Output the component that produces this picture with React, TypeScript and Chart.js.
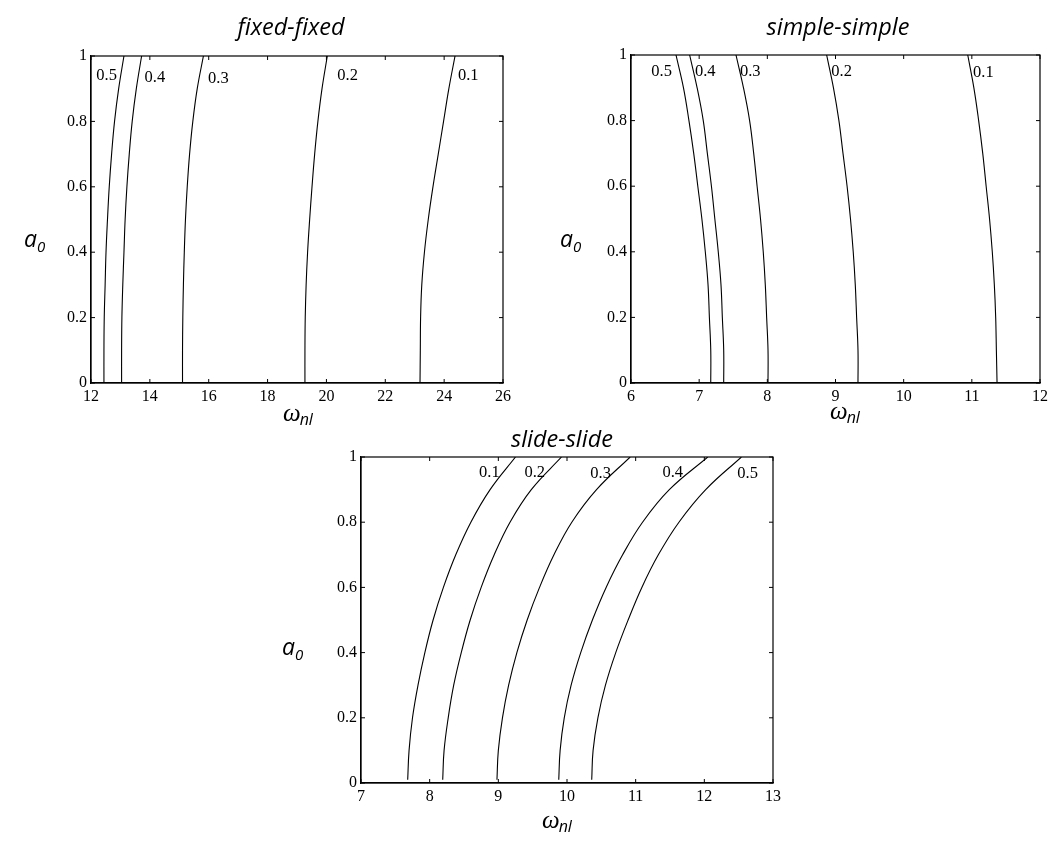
import React, { useEffect, useRef } from "react";
import { Chart, registerables } from "chart.js";
Chart.register(...registerables);

// ---------- data ----------
const levelNames = ["0.1", "0.2", "0.3", "0.4", "0.5"];

// fixed-fixed (a0 values, then omega_nl per damping level)
const fixedA = [0, 0.1, 0.2, 0.3, 0.4, 0.5, 0.6, 0.7, 0.8, 0.9, 1];
const fixed01 = [23.18, 23.19, 23.2, 23.24, 23.33, 23.46, 23.62, 23.8, 23.98, 24.16, 24.37];
const fixed02 = [19.27, 19.27, 19.28, 19.31, 19.36, 19.43, 19.51, 19.6, 19.71, 19.85, 20.03];
const fixed03 = [15.11, 15.11, 15.12, 15.14, 15.17, 15.21, 15.27, 15.35, 15.46, 15.61, 15.82];
const fixed04 = [13.04, 13.04, 13.05, 13.08, 13.12, 13.16, 13.22, 13.3, 13.4, 13.54, 13.72];
const fixed05 = [12.44, 12.44, 12.45, 12.48, 12.51, 12.56, 12.62, 12.7, 12.8, 12.94, 13.12];
const fixedLabelX = [24.82, 20.72, 16.33, 14.17, 12.53];
const fixedLabelY = [0.94, 0.94, 0.93, 0.935, 0.94];

// simple-simple
const simpleA = [0, 0.1, 0.2, 0.3, 0.4, 0.5, 0.6, 0.7, 0.8, 0.9, 1];
const simple01 = [11.37, 11.36, 11.35, 11.33, 11.3, 11.26, 11.21, 11.16, 11.1, 11.03, 10.94];
const simple02 = [9.33, 9.33, 9.31, 9.29, 9.26, 9.22, 9.17, 9.11, 9.05, 8.97, 8.87];
const simple03 = [8.01, 8.01, 7.99, 7.97, 7.94, 7.9, 7.85, 7.8, 7.74, 7.65, 7.54];
const simple04 = [7.36, 7.36, 7.34, 7.32, 7.28, 7.23, 7.18, 7.12, 7.06, 6.97, 6.86];
const simple05 = [7.17, 7.17, 7.15, 7.13, 7.09, 7.04, 6.98, 6.92, 6.85, 6.77, 6.66];
const simpleLabelX = [11.17, 9.09, 7.75, 7.09, 6.45];
const simpleLabelY = [0.947, 0.95, 0.95, 0.95, 0.95];

// slide-slide
const slideA = [0.01, 0.1, 0.2, 0.3, 0.4, 0.5, 0.6, 0.7, 0.8, 0.9, 1];
const slide01 = [7.68, 7.7, 7.75, 7.83, 7.93, 8.05, 8.2, 8.38, 8.6, 8.88, 9.25];
const slide02 = [8.19, 8.21, 8.27, 8.35, 8.46, 8.59, 8.75, 8.94, 9.17, 9.48, 9.92];
const slide03 = [8.98, 9.0, 9.06, 9.15, 9.27, 9.42, 9.6, 9.81, 10.07, 10.43, 10.92];
const slide04 = [9.88, 9.9, 9.96, 10.06, 10.2, 10.37, 10.57, 10.81, 11.1, 11.49, 12.05];
const slide05 = [10.36, 10.38, 10.45, 10.56, 10.71, 10.89, 11.09, 11.33, 11.63, 12.02, 12.54];
const slideLabelX = [8.87, 9.53, 10.49, 11.54, 12.63];
const slideLabelY = [0.951, 0.951, 0.949, 0.951, 0.949];

// ---------- layout ----------
type PanelSpec = {
  title: string;
  a: number[];
  curves: number[][];
  labelX: number[];
  labelY: number[];
  xMin: number;
  xMax: number;
  xStep: number;
  left: number;
  top: number;
  width: number;
  height: number;
  area: { left: number; top: number; right: number; bottom: number };
  titlePos: [number, number];
  yLabPos: [number, number];
  xLabPos: [number, number];
};

const panels: PanelSpec[] = [
  {
    title: "fixed-fixed",
    a: fixedA,
    curves: [fixed01, fixed02, fixed03, fixed04, fixed05],
    labelX: fixedLabelX,
    labelY: fixedLabelY,
    xMin: 12,
    xMax: 26,
    xStep: 2,
    left: 0,
    top: 0,
    width: 526,
    height: 430,
    area: { left: 91, top: 56, right: 503, bottom: 383 },
    titlePos: [291, 35],
    yLabPos: [24, 247],
    xLabPos: [283, 421],
  },
  {
    title: "simple-simple",
    a: simpleA,
    curves: [simple01, simple02, simple03, simple04, simple05],
    labelX: simpleLabelX,
    labelY: simpleLabelY,
    xMin: 6,
    xMax: 12,
    xStep: 1,
    left: 526,
    top: 0,
    width: 526,
    height: 430,
    area: { left: 105, top: 55, right: 517, bottom: 383 },
    titlePos: [312, 35],
    yLabPos: [34, 247],
    xLabPos: [304, 419],
  },
  {
    title: "slide-slide",
    a: slideA,
    curves: [slide01, slide02, slide03, slide04, slide05],
    labelX: slideLabelX,
    labelY: slideLabelY,
    xMin: 7,
    xMax: 13,
    xStep: 1,
    left: 263,
    top: 430,
    width: 526,
    height: 411,
    area: { left: 98, top: 27, right: 510, bottom: 353 },
    titlePos: [299, 17],
    yLabPos: [19, 225],
    xLabPos: [279, 398],
  },
];

const decorPlugin = {
  id: "decor",
  afterDraw(chart: any, _args: any, opts: any) {
    const ctx = chart.ctx as CanvasRenderingContext2D;
    const { left, right, top, bottom } = chart.chartArea;
    const xs = chart.scales.x;
    const ys = chart.scales.y;
    ctx.save();
    ctx.strokeStyle = "#000";
    ctx.lineWidth = 1.2;
    ctx.strokeRect(left, top, right - left, bottom - top);
    ctx.lineWidth = 1;
    ctx.beginPath();
    xs.ticks.forEach((t: any) => {
      const px = xs.getPixelForValue(t.value);
      ctx.moveTo(px, bottom);
      ctx.lineTo(px, bottom - 4);
      ctx.moveTo(px, top);
      ctx.lineTo(px, top + 4);
    });
    ys.ticks.forEach((t: any) => {
      const py = ys.getPixelForValue(t.value);
      ctx.moveTo(left, py);
      ctx.lineTo(left + 4, py);
      ctx.moveTo(right, py);
      ctx.lineTo(right - 4, py);
    });
    ctx.stroke();

    // curve labels
    ctx.fillStyle = "#000";
    ctx.font = '16.5px "Liberation Serif"';
    ctx.textAlign = "center";
    ctx.textBaseline = "middle";
    (opts.labels as { text: string; x: number; y: number }[]).forEach((l) => {
      ctx.fillText(l.text, xs.getPixelForValue(l.x), ys.getPixelForValue(l.y));
    });

    // title
    ctx.textBaseline = "alphabetic";
    ctx.font = 'italic 23.5px "Open Sans"';
    ctx.fillText(opts.title, opts.titlePos[0], opts.titlePos[1]);

    // y label a0
    ctx.textAlign = "left";
    ctx.font = 'italic 23px "Open Sans"';
    const [ax, ay] = opts.yLabPos;
    ctx.fillText("a", ax, ay);
    const aw = ctx.measureText("a").width;
    ctx.font = 'italic 15px "Open Sans"';
    ctx.fillText("0", ax + aw, ay + 5);

    // x label omega_nl
    const [wx, wy] = opts.xLabPos;
    ctx.font = 'italic 25px "Liberation Serif"';
    ctx.fillText("\u03c9", wx, wy);
    const ww = ctx.measureText("\u03c9").width;
    ctx.font = 'italic 16px "Open Sans"';
    ctx.fillText("nl", wx + ww - 1, wy + 4);
    ctx.restore();
  },
};

function Panel({ spec }: { spec: PanelSpec }) {
  const ref = useRef<HTMLCanvasElement>(null);
  useEffect(() => {
    const canvas = ref.current!;
    const { area } = spec;
    const datasets = spec.curves.map((xsv, i) => ({
      label: levelNames[i],
      data: xsv.map((xv, j) => ({ x: xv, y: spec.a[j] })),
      borderColor: "#000",
      backgroundColor: "#000",
      borderWidth: 1.1,
      pointRadius: 0,
      showLine: true,
      tension: 0.4,
      fill: false,
    }));
    const labels = levelNames.map((t, i) => ({ text: t, x: spec.labelX[i], y: spec.labelY[i] }));
    const tickFont = { family: '"Liberation Serif"', size: 16 };
    const chart = new Chart(canvas, {
      type: "scatter",
      data: { datasets },
      options: {
        animation: false,
        responsive: false,
        devicePixelRatio: 1,
        layout: {
          padding: {
            left: 0,
            top: area.top,
            right: spec.width - area.right,
            bottom: 0,
          },
        },
        plugins: {
          legend: { display: false },
          tooltip: { enabled: false },
          decor: {
            labels,
            title: spec.title,
            titlePos: spec.titlePos,
            yLabPos: spec.yLabPos,
            xLabPos: spec.xLabPos,
          },
        } as any,
        scales: {
          x: {
            type: "linear",
            position: "bottom",
            min: spec.xMin,
            max: spec.xMax,
            ticks: {
              stepSize: spec.xStep,
              autoSkip: false,
              maxRotation: 0,
              color: "#000",
              font: tickFont,
              padding: 4,
            },
            grid: { display: false, drawTicks: false },
            border: { display: true, color: "#000", width: 1.2 },
            afterFit: (s: any) => {
              s.height = spec.height - area.bottom;
            },
          },
          y: {
            type: "linear",
            position: "left",
            min: 0,
            max: 1,
            ticks: {
              stepSize: 0.2,
              autoSkip: false,
              color: "#000",
              font: tickFont,
              padding: 4,
              callback: (v: any) => String(Math.round(Number(v) * 10) / 10),
            },
            grid: { display: false, drawTicks: false },
            border: { display: true, color: "#000", width: 1.2 },
            afterFit: (s: any) => {
              s.width = area.left;
            },
          },
        },
      } as any,
      plugins: [decorPlugin],
    });
    return () => chart.destroy();
  }, [spec]);
  return (
    <canvas
      ref={ref}
      width={spec.width}
      height={spec.height}
      style={{
        position: "absolute",
        left: spec.left,
        top: spec.top,
        width: spec.width,
        height: spec.height,
      }}
    />
  );
}

export default function App() {
  return (
    <div
      style={{
        position: "absolute",
        left: 0,
        top: 0,
        width: 1052,
        height: 841,
        background: "#fff",
      }}
    >
      {panels.map((p) => (
        <Panel key={p.title} spec={p} />
      ))}
    </div>
  );
}
